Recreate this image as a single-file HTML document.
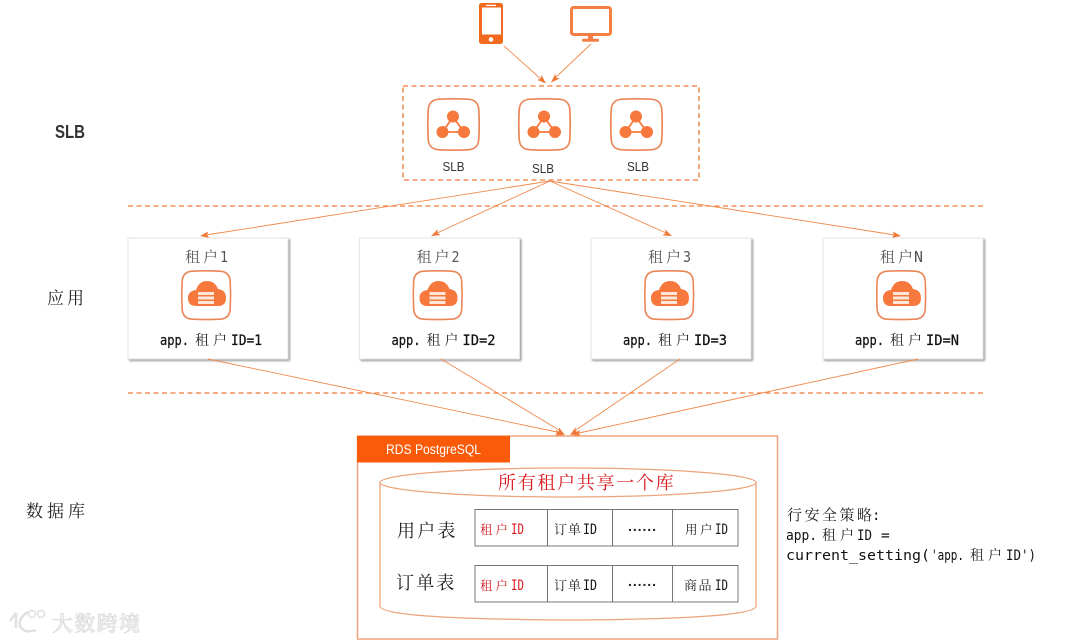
<!DOCTYPE html>
<html><head><meta charset="utf-8"><style>
html,body{margin:0;padding:0;background:#fff}
svg{display:block}
text{font-family:"Liberation Sans","Noto Serif CJK SC",sans-serif}
.a{font-family:"DejaVu Sans Mono",monospace;fill:#111}
.k{font-family:"Noto Serif CJK SC",serif;fill:#222}
.g{fill:#555}
.r{fill:#d9141b}
.l{stroke:#ef8a4c;stroke-width:.9;fill:none}
.d{stroke:#ef7a38;stroke-width:1.3;stroke-dasharray:5 3.5;fill:none}
.h{fill:#f0793a}
.i{fill:none;stroke:#ec8658;stroke-width:1.7}
.c{fill:#f6783c}
</style></head><body>
<svg width="1080" height="642" viewBox="0 0 1080 642" xmlns="http://www.w3.org/2000/svg" style="filter:blur(.3px)">
<defs>
<filter id="s" x="-5%" y="-5%" width="112%" height="112%"><feDropShadow dx="1.500" dy="1.500" stdDeviation="1" flood-color="#777" flood-opacity=".75"/></filter>
<path id="sq" d="M12 1.200Q26.500 .4 41 1.200C48 1.600 51.400 5 51.800 12Q52.600 26.500 51.800 41C51.400 48 48 51.400 41 51.800Q26.500 52.600 12 51.800C5 51.400 1.600 48 1.200 41Q.4 26.500 1.200 12C1.600 5 5 1.600 12 1.200Z"/>
<g id="slb">
<use href="#sq" class="i"/>
<path d="M26 19L15.500 34H37Z" fill="none" stroke="#f6783c" stroke-width="1.800"/>
<circle class="c" cx="26" cy="18.500" r="6"/><circle class="c" cx="15.500" cy="34" r="6"/><circle class="c" cx="37" cy="34" r="6"/>
</g>
<g id="app">
<rect x="128" y="238" width="160" height="121" fill="#fff" stroke="#e6e6e6" stroke-width="1" filter="url(#s)"/>
<use href="#sq" class="i" transform="translate(181,270) scale(.95)"/>
<path class="c" d="M196 306Q188 306 188 298Q188 291 196 290Q199 281 207 281Q215 281 218 289Q226 290 226 298Q226 306 218 306Z"/>
<path d="M198 292h16v3h-16zM198 296.500h16v3h-16zM198 301h16v3h-16z" fill="#fde7da"/>
</g>
<g id="ar"><path d="M0 0L-9 -3.300L-7 0L-9 3.300Z" class="h"/></g>
</defs>

<!-- devices -->
<rect x="479" y="3" width="24" height="41" rx="2.500" fill="#f26a1d"/>
<rect x="482" y="7.500" width="19" height="27" fill="#fff"/>
<rect x="486" y="4.800" width="10" height="1.200" fill="#fff"/>
<circle cx="491" cy="39.500" r="2.300" fill="#fff"/>
<rect x="571.500" y="7.500" width="39" height="27" rx="2" fill="none" stroke="#f47f45" stroke-width="3"/>
<rect x="588" y="35" width="5" height="5" fill="#f47f45"/>
<rect x="582" y="38.800" width="17" height="3" rx="1.500" fill="#f47f45"/>

<!-- top arrows -->
<line class="l" x1="504" y1="46" x2="542" y2="80"/>
<use href="#ar" transform="translate(546,83.500) rotate(42)"/>
<line class="l" x1="591" y1="44" x2="554" y2="79"/>
<use href="#ar" transform="translate(551,82.500) rotate(136)"/>

<!-- SLB group -->
<rect class="d" x="403" y="86" width="296" height="94"/>
<use href="#slb" x="427" y="98"/>
<use href="#slb" x="518" y="98"/>
<use href="#slb" x="610" y="98"/>
<text x="453.500" y="171" font-size="13" text-anchor="middle" fill="#333" textLength="22" lengthAdjust="spacingAndGlyphs">SLB</text>
<text x="543" y="173" font-size="13" text-anchor="middle" fill="#333" textLength="22" lengthAdjust="spacingAndGlyphs">SLB</text>
<text x="638" y="171" font-size="13" text-anchor="middle" fill="#333" textLength="22" lengthAdjust="spacingAndGlyphs">SLB</text>

<!-- left labels -->
<text x="55" y="138" font-size="18" fill="#333" font-weight="bold" textLength="30" lengthAdjust="spacingAndGlyphs">SLB</text>
<text class="k" x="47" y="304" font-size="17" letter-spacing="3">应用</text>
<text class="k" x="26" y="517" font-size="17" letter-spacing="4">数据库</text>

<!-- dividers -->
<line class="d" x1="128" y1="206" x2="985" y2="206"/>
<line class="d" x1="128" y1="393" x2="985" y2="393"/>

<!-- fan-out -->
<line class="l" x1="550" y1="181" x2="206" y2="235"/>
<use href="#ar" transform="translate(200,236) rotate(171)"/>
<line class="l" x1="550" y1="181" x2="437" y2="233"/>
<use href="#ar" transform="translate(431,236) rotate(155)"/>
<line class="l" x1="550" y1="181" x2="666" y2="233"/>
<use href="#ar" transform="translate(672,236) rotate(24)"/>
<line class="l" x1="550" y1="181" x2="895" y2="235"/>
<use href="#ar" transform="translate(901,236) rotate(9)"/>

<!-- tenants -->
<use href="#app"/>
<use href="#app" x="231.500"/>
<use href="#app" x="463"/>
<use href="#app" x="695"/>

<text class="k g" x="185" y="262" font-size="15" letter-spacing="3">租户</text><text class="a g" x="220" y="262" font-size="15" textLength="8" lengthAdjust="spacingAndGlyphs">1</text>
<text class="k g" x="416.500" y="262" font-size="15" letter-spacing="3">租户</text><text class="a g" x="451.500" y="262" font-size="15" textLength="8" lengthAdjust="spacingAndGlyphs">2</text>
<text class="k g" x="648" y="262" font-size="15" letter-spacing="3">租户</text><text class="a g" x="683" y="262" font-size="15" textLength="8" lengthAdjust="spacingAndGlyphs">3</text>
<text class="k g" x="880" y="262" font-size="15" letter-spacing="3">租户</text><text class="a g" x="914" y="262" font-size="15" textLength="9" lengthAdjust="spacingAndGlyphs">N</text>

<text class="a" x="160" y="345" font-size="14.500" stroke="#111" stroke-width=".25" textLength="29" lengthAdjust="spacingAndGlyphs">app.</text><text class="k" x="195" y="345" font-size="14" letter-spacing="4">租户</text><text class="a" x="231" y="345" font-size="14.500" stroke="#111" stroke-width=".25" textLength="31" lengthAdjust="spacingAndGlyphs">ID=1</text>
<text class="a" x="391.500" y="345" font-size="14.500" stroke="#111" stroke-width=".25" textLength="29" lengthAdjust="spacingAndGlyphs">app.</text><text class="k" x="426.500" y="345" font-size="14" letter-spacing="4">租户</text><text class="a" x="462.500" y="345" font-size="14.500" stroke="#111" stroke-width=".25" textLength="33" lengthAdjust="spacingAndGlyphs">ID=2</text>
<text class="a" x="623" y="345" font-size="14.500" stroke="#111" stroke-width=".25" textLength="29" lengthAdjust="spacingAndGlyphs">app.</text><text class="k" x="658" y="345" font-size="14" letter-spacing="4">租户</text><text class="a" x="694" y="345" font-size="14.500" stroke="#111" stroke-width=".25" textLength="33" lengthAdjust="spacingAndGlyphs">ID=3</text>
<text class="a" x="855" y="345" font-size="14.500" stroke="#111" stroke-width=".25" textLength="29" lengthAdjust="spacingAndGlyphs">app.</text><text class="k" x="890" y="345" font-size="14" letter-spacing="4">租户</text><text class="a" x="926" y="345" font-size="14.500" stroke="#111" stroke-width=".25" textLength="33" lengthAdjust="spacingAndGlyphs">ID=N</text>

<!-- fan-in -->
<line class="l" x1="208" y1="359" x2="557" y2="432"/>
<use href="#ar" transform="translate(564,435) rotate(12)"/>
<line class="l" x1="441" y1="359" x2="559" y2="430"/>
<use href="#ar" transform="translate(565,435) rotate(31)"/>
<line class="l" x1="680" y1="359" x2="576" y2="430"/>
<use href="#ar" transform="translate(570,435) rotate(146)"/>
<line class="l" x1="918" y1="359" x2="579" y2="433"/>
<use href="#ar" transform="translate(572,435) rotate(168)"/>

<!-- RDS -->
<rect x="357.500" y="436" width="420" height="203" fill="none" stroke="#eda47b" stroke-width="1.500"/>
<rect x="357" y="436" width="153" height="26.500" fill="#fb5a09"/>
<text x="386" y="454" font-size="13.500" fill="#fff" textLength="95" lengthAdjust="spacingAndGlyphs">RDS PostgreSQL</text>

<!-- cylinder -->
<path d="M380 483V606Q380 619 568 620Q756 619 756 606V483" fill="#fff" stroke="#eda47b" stroke-width="1.300"/>
<ellipse cx="568" cy="482.500" rx="188" ry="14.500" fill="#fff" stroke="#eda47b" stroke-width="1.300"/>
<text class="k r" x="498" y="489" font-size="18" letter-spacing="1.700">所有租户共享一个库</text>

<!-- tables -->
<g fill="#fff" stroke="#777" stroke-width="1">
<rect x="475" y="509.500" width="263" height="36.500"/>
<rect x="475" y="565.500" width="263" height="36.500"/>
<path d="M547.500 509.500V546M612.500 509.500V546M672.500 509.500V546M547.500 565.500V602M612.500 565.500V602M672.500 565.500V602" fill="none"/>
</g>
<text class="k" x="397" y="537" font-size="18" letter-spacing="2.200">用户表</text>
<text class="k" x="396" y="589" font-size="18" letter-spacing="2.200">订单表</text>

<text class="k r" x="480" y="534" font-size="12.500" letter-spacing="3">租户</text><text class="a r" x="511" y="534" font-size="14" textLength="13" lengthAdjust="spacingAndGlyphs">ID</text>
<text class="k" x="554" y="534" font-size="13" letter-spacing="1">订单</text><text class="a" x="583" y="534" font-size="14" textLength="14" lengthAdjust="spacingAndGlyphs">ID</text>
<text x="628" y="531" font-size="14" font-weight="bold" fill="#222" textLength="28">......</text>
<text class="k" x="685" y="534" font-size="12.500" letter-spacing="2.500">用户</text><text class="a" x="715" y="534" font-size="14" textLength="13" lengthAdjust="spacingAndGlyphs">ID</text>

<text class="k r" x="480" y="590" font-size="12.500" letter-spacing="3">租户</text><text class="a r" x="511" y="590" font-size="14" textLength="13" lengthAdjust="spacingAndGlyphs">ID</text>
<text class="k" x="554" y="590" font-size="13" letter-spacing="1">订单</text><text class="a" x="583" y="590" font-size="14" textLength="14" lengthAdjust="spacingAndGlyphs">ID</text>
<text x="628" y="586" font-size="14" font-weight="bold" fill="#222" textLength="28">......</text>
<text class="k" x="684" y="590" font-size="13" letter-spacing="1.500">商品</text><text class="a" x="715" y="590" font-size="14" textLength="13" lengthAdjust="spacingAndGlyphs">ID</text>

<!-- policy -->
<text class="k" x="787" y="520" font-size="15" letter-spacing="2.500">行安全策略</text><text class="a" x="872" y="520" font-size="14">:</text>
<text class="a" x="786" y="540" font-size="14.500" textLength="31" lengthAdjust="spacingAndGlyphs">app.</text><text class="k" x="822" y="540" font-size="14" letter-spacing="4">租户</text><text class="a" x="857" y="540" font-size="14.500" textLength="15" lengthAdjust="spacingAndGlyphs">ID</text><text class="a" x="881" y="540" font-size="14.500">=</text>
<text class="a" x="786" y="560" font-size="14.500" textLength="144" lengthAdjust="spacingAndGlyphs">current_setting(</text><text class="a" x="931" y="560" font-size="14.500" textLength="33" lengthAdjust="spacingAndGlyphs">'app.</text><text class="k" x="970" y="560" font-size="14" letter-spacing="4">租户</text><text class="a" x="1006" y="560" font-size="14.500" textLength="30" lengthAdjust="spacingAndGlyphs">ID')</text>

<!-- watermark -->
<g fill="none" stroke="#e0e0e0" stroke-width="2.500">
<path d="M10 621L16 613M16 613V628M28 612Q18 618 20 626Q24 634 36 630"/>
<circle cx="32" cy="614" r="3.500" stroke-width="1.500"/><circle cx="41" cy="614" r="3.500" stroke-width="1.500"/>
</g>
<text x="52" y="631" font-size="21" fill="#ececec" stroke="#d8d8d8" stroke-width=".5" font-weight="bold" textLength="88">大数跨境</text>
</svg>
</body></html>
